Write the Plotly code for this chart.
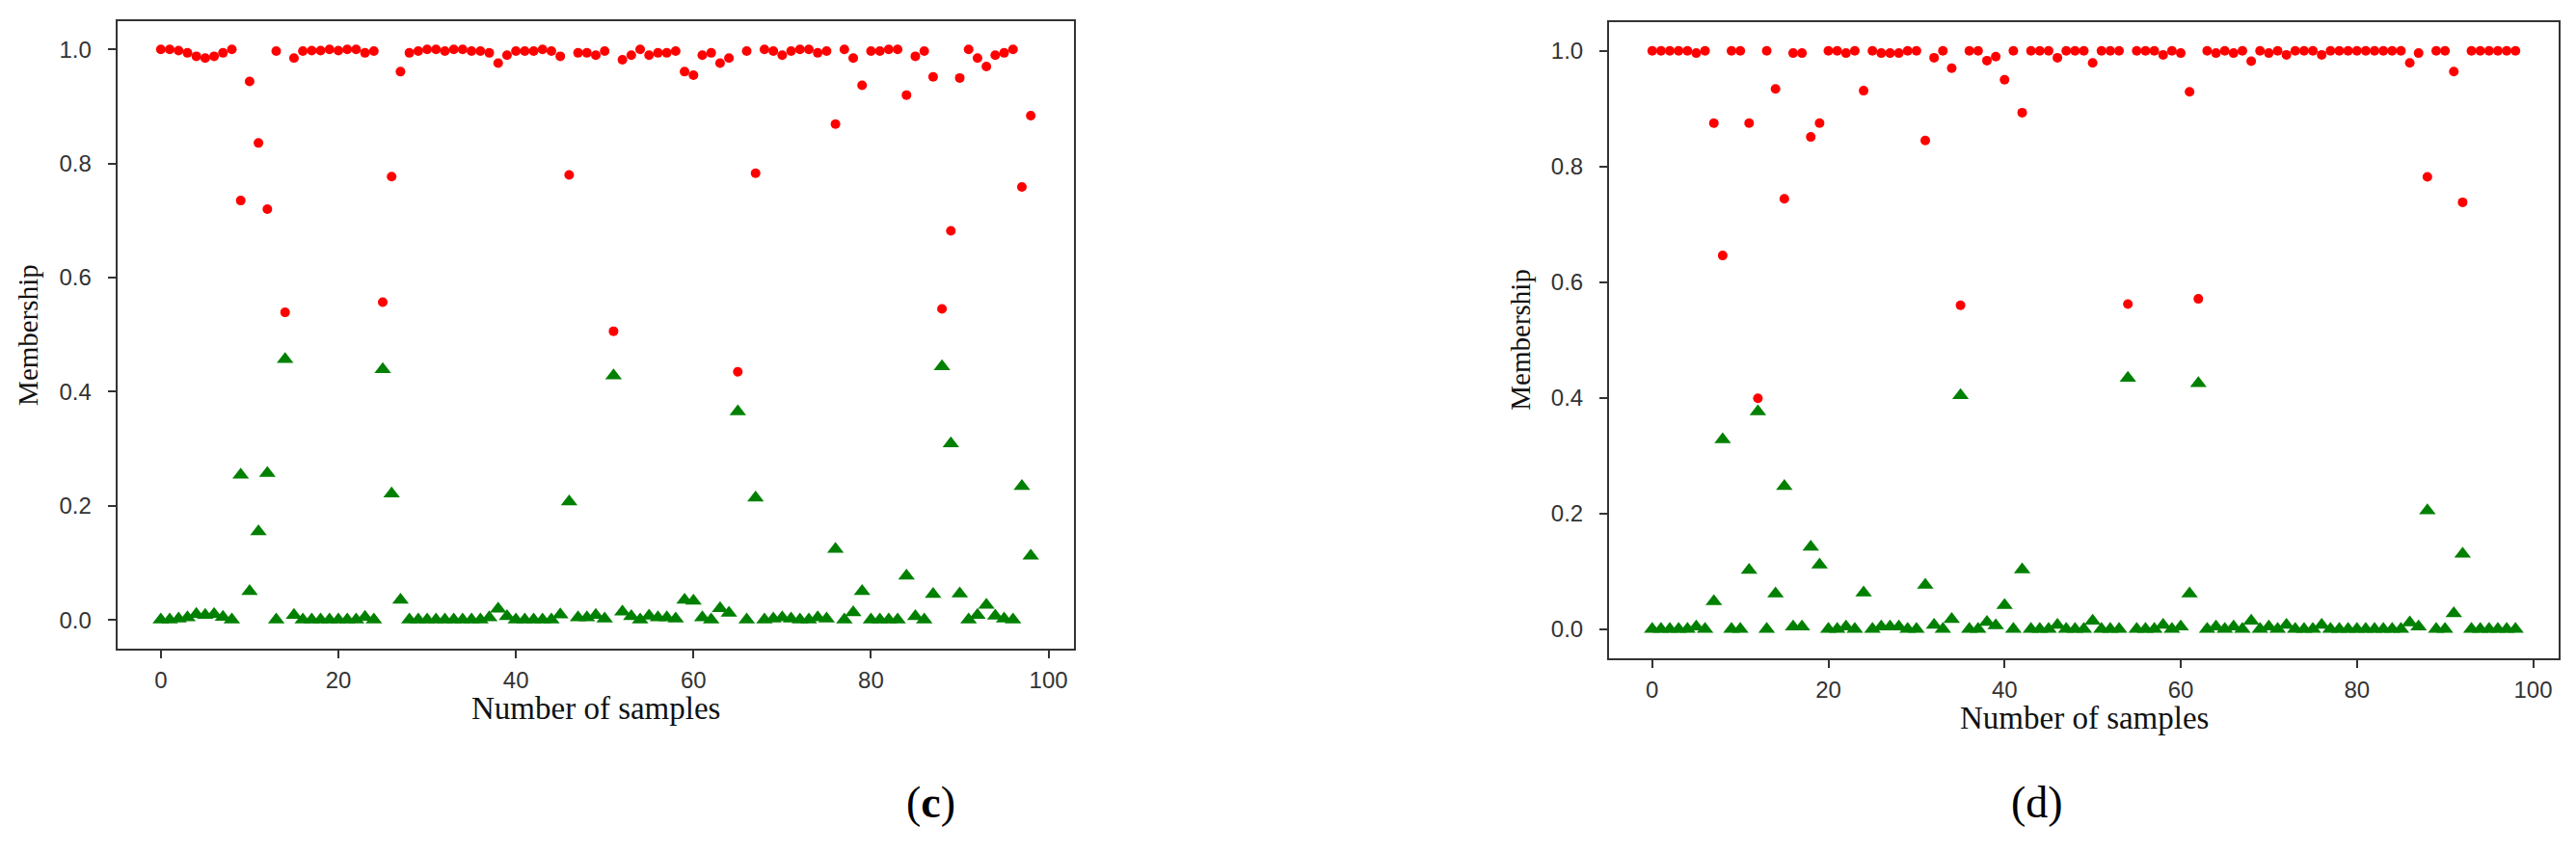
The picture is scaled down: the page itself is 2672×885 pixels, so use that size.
import plotly.graph_objects as go

# sample index 0..98 for both panels
samples = list(range(99))

# panel (c): membership of the two classes
c_red = [1.0, 1.0, 0.998, 0.994, 0.988, 0.985, 0.988, 0.994, 1.0, 0.735,
         0.944, 0.836, 0.72, 0.997, 0.539, 0.985, 0.997, 0.998, 0.998, 1.0,
         0.998, 1.0, 1.0, 0.994, 0.997, 0.557, 0.777, 0.961, 0.994, 0.997,
         1.0, 1.0, 0.997, 1.0, 1.0, 0.997, 0.997, 0.994, 0.976, 0.99,
         0.997, 0.997, 0.997, 1.0, 0.997, 0.988, 0.78, 0.994, 0.994, 0.99,
         0.997, 0.506, 0.982, 0.99, 1.0, 0.99, 0.994, 0.994, 0.997, 0.961,
         0.955, 0.99, 0.994, 0.976, 0.985, 0.435, 0.997, 0.783, 1.0, 0.997,
         0.99, 0.997, 1.0, 1.0, 0.994, 0.997, 0.869, 1.0, 0.985, 0.937,
         0.997, 0.997, 1.0, 1.0, 0.92, 0.988, 0.997, 0.952, 0.545, 0.682,
         0.95, 1.0, 0.985, 0.97, 0.99, 0.994, 1.0, 0.759, 0.884]
c_green = [0.0, 0.0, 0.002, 0.004, 0.01, 0.008, 0.01, 0.005, 0.0, 0.254,
           0.05, 0.155, 0.257, 0.0, 0.457, 0.008, 0.0, 0.0, 0.0, 0.0,
           0.0, 0.0, 0.0, 0.005, 0.0, 0.439, 0.221, 0.035, 0.0, 0.0,
           0.0, 0.0, 0.0, 0.0, 0.0, 0.0, 0.0, 0.004, 0.019, 0.006,
           0.0, 0.0, 0.0, 0.0, 0.0, 0.009, 0.207, 0.004, 0.004, 0.008,
           0.002, 0.428, 0.014, 0.006, 0.0, 0.007, 0.004, 0.004, 0.002, 0.035,
           0.033, 0.004, 0.0, 0.02, 0.012, 0.365, 0.0, 0.214, 0.0, 0.002,
           0.004, 0.002, 0.0, 0.0, 0.004, 0.002, 0.124, 0.0, 0.013, 0.05,
           0.0, 0.0, 0.0, 0.0, 0.077, 0.006, 0.0, 0.045, 0.444, 0.309,
           0.046, 0.0, 0.008, 0.026, 0.007, 0.002, 0.0, 0.234, 0.112]

# panel (d)
d_red = [1.0, 1.0, 1.0, 1.0, 1.0, 0.996, 1.0, 0.875, 0.646, 1.0,
         1.0, 0.875, 0.399, 1.0, 0.934, 0.744, 0.996, 0.996, 0.851, 0.875,
         1.0, 1.0, 0.996, 1.0, 0.931, 1.0, 0.996, 0.996, 0.996, 1.0,
         1.0, 0.845, 0.988, 1.0, 0.97, 0.56, 1.0, 1.0, 0.983, 0.99,
         0.95, 1.0, 0.893, 1.0, 1.0, 1.0, 0.988, 1.0, 1.0, 1.0,
         0.979, 1.0, 1.0, 1.0, 0.562, 1.0, 1.0, 1.0, 0.993, 1.0,
         0.996, 0.929, 0.571, 1.0, 0.996, 1.0, 0.996, 1.0, 0.982, 1.0,
         0.996, 1.0, 0.993, 1.0, 1.0, 1.0, 0.993, 1.0, 1.0, 1.0,
         1.0, 1.0, 1.0, 1.0, 1.0, 1.0, 0.979, 0.996, 0.782, 1.0,
         1.0, 0.964, 0.738, 1.0, 1.0, 1.0, 1.0, 1.0, 1.0]
d_green = [0.0, 0.0, 0.0, 0.0, 0.0, 0.004, 0.0, 0.048, 0.328, 0.0,
           0.0, 0.102, 0.376, 0.0, 0.061, 0.247, 0.004, 0.004, 0.142, 0.111,
           0.0, 0.0, 0.004, 0.0, 0.063, 0.0, 0.004, 0.004, 0.004, 0.0,
           0.0, 0.076, 0.007, 0.0, 0.017, 0.404, 0.0, 0.0, 0.012, 0.006,
           0.041, 0.0, 0.103, 0.0, 0.0, 0.0, 0.007, 0.0, 0.0, 0.0,
           0.014, 0.0, 0.0, 0.0, 0.434, 0.0, 0.0, 0.0, 0.007, 0.0,
           0.004, 0.061, 0.425, 0.0, 0.004, 0.0, 0.004, 0.0, 0.014, 0.0,
           0.004, 0.0, 0.007, 0.0, 0.0, 0.0, 0.007, 0.0, 0.0, 0.0,
           0.0, 0.0, 0.0, 0.0, 0.0, 0.0, 0.011, 0.004, 0.205, 0.0,
           0.0, 0.027, 0.13, 0.0, 0.0, 0.0, 0.0, 0.0, 0.0]

x_ticks = [0, 20, 40, 60, 80, 100]
y_ticks = [0.0, 0.2, 0.4, 0.6, 0.8, 1.0]
captions = ["(<b>c</b>)", "(d)"]

W, H = 2672, 885
TICK_FONT = dict(family="Liberation Sans", size=24, color="#333333")
SERIF = "Liberation Serif"

fig = go.Figure()

panels = [(c_red, c_green, "x", "y"), (d_red, d_green, "x2", "y2")]
for red, green, xa, ya in panels:
    fig.add_trace(go.Scatter(x=samples, y=red, mode="markers", xaxis=xa, yaxis=ya,
                             marker=dict(symbol="circle", size=10, color="#ff0000"),
                             showlegend=False))
    fig.add_trace(go.Scatter(x=samples, y=green, mode="markers", xaxis=xa, yaxis=ya,
                             marker=dict(symbol="triangle-up", size=15, color="#008000"),
                             showlegend=False))

# pixel boxes of the two axes (left, top, right, bottom)
boxes = [(121.7, 21.7, 1114.3, 672.7), (1669.0, 22.7, 2654.0, 682.7)]

axis_common = dict(showline=True, linecolor="#333333", linewidth=2, mirror=True,
                   ticks="outside", ticklen=8, tickwidth=2, tickcolor="#333333",
                   showgrid=False, zeroline=False, tickfont=TICK_FONT)


def label(x, y, text, size, angle=0, color="#111111"):
    fig.add_annotation(x=x / W, y=1 - y / H, xref="paper", yref="paper",
                       xanchor="center", yanchor="middle", text=text,
                       textangle=angle, showarrow=False,
                       font=dict(family=SERIF, size=size, color=color))


for i, (l, t, r, b) in enumerate(boxes):
    sfx = "" if i == 0 else str(i + 1)
    fig.layout["xaxis" + sfx] = dict(axis_common, domain=[l / W, r / W],
                                     range=[-4.9, 102.9], tickvals=x_ticks,
                                     anchor="y" + sfx, ticklabelstandoff=2)
    fig.layout["yaxis" + sfx] = dict(axis_common, domain=[1 - b / H, 1 - t / H],
                                     range=[-0.05, 1.05], tickvals=y_ticks,
                                     tickformat=".1f", anchor="x" + sfx,
                                     ticklabelstandoff=12)
    cx = (l + r) / 2
    cy = (t + b) / 2
    label(cx, b + 62, "Number of samples", 33)
    label(l - 92, cy, "Membership", 29, angle=-90)

label(965, 832, captions[0], 46, color="black")
label(2113, 832, captions[1], 46, color="black")

fig.update_layout(width=W, height=H, margin=dict(l=0, r=0, t=0, b=0),
                  paper_bgcolor="white", plot_bgcolor="white")

fig.write_html("out.html", config={"displayModeBar": False},
               post_script="document.body.style.margin='0';")
